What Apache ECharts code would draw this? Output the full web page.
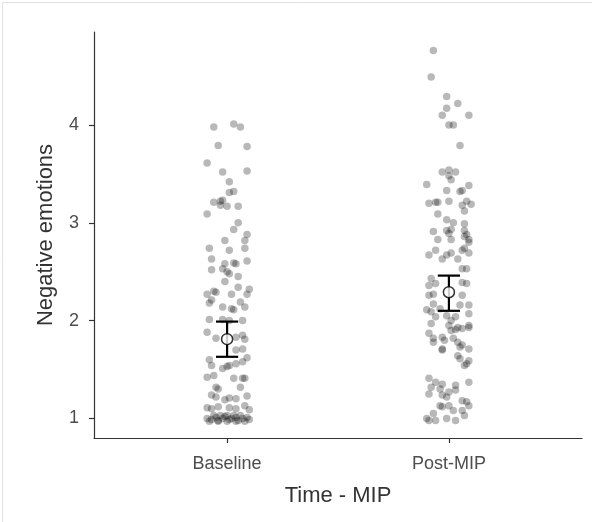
<!DOCTYPE html>
<html>
<head>
<meta charset="utf-8">
<script src="https://cdn.jsdelivr.net/npm/echarts@6/dist/echarts.min.js"></script>
<style>
html,body{margin:0;padding:0;background:#fff;}
#chart{width:592px;height:522px;}
</style>
</head>
<body>
<div id="chart"></div>
<script>
// ---- data ----
const categories = ['Baseline', 'Post-MIP'];
const yTicks = [1, 2, 3, 4];
// [x (category position + jitter), value]
const baselinePoints = [
  [0.94,3.98],[1.03,4.01],[1.06,3.98],[0.96,3.79],[1.09,3.78],[0.91,3.61],[0.98,3.52],[1.09,3.53],
  [1.01,3.42],[1.01,3.31],[1.03,3.32],[0.94,3.21],[0.97,3.22],[0.98,3.23],[0.97,3.18],[1.00,3.17],
  [1.05,3.17],[0.91,3.09],[1.05,3.00],[1.03,2.93],[1.09,2.88],[1.08,2.82],[0.99,2.82],[1.08,2.74],
  [0.92,2.74],[1.01,2.72],[0.93,2.63],[0.99,2.58],[1.03,2.59],[1.04,2.58],[1.09,2.61],[0.93,2.52],
  [0.98,2.53],[1.00,2.50],[1.01,2.48],[1.05,2.45],[0.99,2.40],[1.05,2.34],[1.10,2.32],[0.91,2.27],
  [0.94,2.30],[0.95,2.29],[1.02,2.27],[1.09,2.27],[0.93,2.21],[0.92,2.18],[1.06,2.19],[0.98,2.14],
  [1.02,2.12],[1.03,2.11],[1.08,2.14],[0.92,2.01],[0.98,2.01],[1.01,2.00],[1.07,2.00],[0.91,1.88],
  [0.95,1.82],[1.04,1.83],[1.07,1.85],[1.08,1.81],[1.04,1.70],[1.07,1.71],[0.92,1.60],[0.93,1.54],
  [0.98,1.51],[1.00,1.53],[1.01,1.54],[1.04,1.56],[1.07,1.58],[1.09,1.62],[0.91,1.42],[0.94,1.44],
  [1.03,1.41],[1.07,1.41],[1.08,1.41],[0.95,1.32],[0.96,1.30],[1.06,1.32],[0.93,1.24],[0.95,1.22],
  [0.99,1.19],[1.01,1.21],[1.04,1.20],[1.09,1.23],[0.91,1.11],[0.93,1.10],[0.96,1.12],[1.01,1.11],
  [1.04,1.10],[1.08,1.13],[1.10,1.09],
  [0.91,1.00],[0.93,0.99],[0.95,1.01],[0.96,0.98],[0.98,1.00],[0.99,1.02],[1.01,0.99],[1.02,1.00],
  [1.04,1.01],[1.05,0.98],[1.07,1.00],[1.09,1.01],[1.10,0.99],
  [0.94,1.03],[0.97,1.03],[1.00,1.03],[1.03,1.03],[1.06,1.03],
  [0.92,0.97],[0.96,0.97],[1.00,0.97],[1.04,0.97],[1.08,0.97]
];
const postPoints = [
  [1.93,4.76],[1.92,4.49],[1.99,4.29],[2.04,4.22],[1.99,4.17],[1.97,4.10],[2.09,4.10],[2.00,4.00],
  [2.02,4.00],[2.05,3.79],[1.97,3.52],[2.00,3.54],[2.03,3.52],[2.00,3.48],[2.01,3.44],[1.90,3.39],
  [2.09,3.38],[1.99,3.33],[2.05,3.32],[2.06,3.33],[1.91,3.20],[1.94,3.21],[1.95,3.21],[2.00,3.22],
  [2.08,3.22],[2.06,3.18],[2.10,3.19],[2.07,3.12],[1.95,3.09],[1.99,3.03],[2.02,3.00],[2.07,2.99],
  [1.93,2.91],[1.99,2.92],[2.01,2.93],[2.00,2.89],[2.07,2.92],[2.08,2.88],[1.95,2.83],[2.01,2.83],
  [2.09,2.83],[2.07,2.86],[2.09,2.80],[1.91,2.67],[1.94,2.72],[1.97,2.63],[1.99,2.67],[2.01,2.69],
  [2.04,2.63],[2.06,2.72],[2.07,2.74],[2.09,2.69],[2.06,2.53],[2.08,2.53],[1.92,2.43],[1.94,2.38],
  [1.91,2.36],[2.06,2.39],[2.08,2.38],[1.91,2.26],[1.93,2.27],[2.06,2.26],[1.93,2.17],[2.05,2.16],
  [2.09,2.16],[1.90,2.11],[1.92,2.09],[1.96,2.12],[1.94,2.04],[1.99,2.05],[2.01,2.00],[2.03,2.04],
  [2.09,2.07],[1.92,1.97],[2.00,1.95],[2.04,1.93],[2.09,1.95],[1.91,1.87],[1.93,1.82],[1.97,1.83],
  [2.01,1.90],[2.03,1.91],[2.06,1.92],[2.09,1.93],[1.93,1.78],[1.98,1.80],[2.02,1.82],[2.04,1.78],
  [2.05,1.73],[2.06,1.75],[2.09,1.71],[1.97,1.71],[1.97,1.70],[2.04,1.64],[2.05,1.61],[2.09,1.59],
  [2.08,1.56],[2.07,1.54],[1.91,1.41],[1.94,1.37],[1.97,1.35],[1.92,1.32],[1.96,1.30],[2.03,1.34],
  [2.09,1.37],[2.00,1.27],[2.03,1.29],[1.91,1.25],[1.97,1.24],[1.99,1.22],[2.06,1.18],[2.08,1.17],
  [1.96,1.13],[1.97,1.12],[2.00,1.13],[2.02,1.08],[2.06,1.08],[2.09,1.13],[1.93,1.05],[1.90,1.00],
  [1.91,0.98],[1.94,0.98],[1.99,1.00],[2.03,0.98],[2.07,1.03]
];
// [category position, mean, lower CI, upper CI]
const summaryStats = [
  [1, 1.81, 1.63, 1.99],
  [2, 2.29, 2.10, 2.46]
];

// ---- chart ----
const chart = echarts.init(document.getElementById('chart'), null, {renderer: 'canvas'});
const FONT = 'Liberation Sans, Arial, sans-serif';
const CAP = 0.05;

chart.setOption({
  backgroundColor: '#ffffff',
  animation: false,
  graphic: [{
    type: 'rect', left: 0, top: 0, z: -10,
    shape: {x: 0.5, y: 0.5, width: 591, height: 521},
    style: {fill: 'none', stroke: '#e3e3e3', lineWidth: 1}
  }],
  grid: {left: 94, right: 10, top: 32, bottom: 84},
  xAxis: {
    type: 'value', min: 0.4, max: 2.6,
    name: 'Time - MIP', nameLocation: 'middle', nameGap: 47,
    nameTextStyle: {fontFamily: FONT, fontSize: 22, color: '#333'},
    axisLine: {show: true, onZero: false, lineStyle: {color: '#333', width: 1.2}},
    axisTick: {show: true, length: 5, customValues: [1, 2], lineStyle: {color: '#333', width: 1.2}},
    axisLabel: {
      customValues: [1, 2], margin: 17,
      fontFamily: FONT, fontSize: 18, color: '#4d4d4d',
      formatter: v => categories[Math.round(v) - 1] || ''
    },
    splitLine: {show: false}
  },
  yAxis: {
    type: 'value', min: 0.8, max: 4.95,
    name: 'Negative emotions', nameLocation: 'middle', nameGap: 37, nameRotate: 90,
    nameTextStyle: {fontFamily: FONT, fontSize: 22, color: '#333'},
    axisLine: {show: true, onZero: false, lineStyle: {color: '#333', width: 1.2}},
    axisTick: {show: true, length: 5, customValues: yTicks, lineStyle: {color: '#333', width: 1.2}},
    axisLabel: {customValues: yTicks, margin: 15, fontFamily: FONT, fontSize: 18, color: '#4d4d4d'},
    splitLine: {show: false}
  },
  series: [
    {
      type: 'scatter', data: baselinePoints, symbolSize: 7.5,
      itemStyle: {color: 'rgba(0,0,0,0.35)'}, silent: true
    },
    {
      type: 'scatter', data: postPoints, symbolSize: 7.5,
      itemStyle: {color: 'rgba(0,0,0,0.35)'}, silent: true
    },
    {
      type: 'custom', data: summaryStats, z: 5,
      renderItem: function (params, api) {
        const x = api.value(0), lo = api.value(2), hi = api.value(3);
        const pLo = api.coord([x, lo]), pHi = api.coord([x, hi]);
        const l1 = api.coord([x - CAP, lo]), r1 = api.coord([x + CAP, lo]);
        const l2 = api.coord([x - CAP, hi]), r2 = api.coord([x + CAP, hi]);
        const st = {stroke: '#000', lineWidth: 2.2};
        return {
          type: 'group',
          children: [
            {type: 'line', shape: {x1: pLo[0], y1: pLo[1], x2: pHi[0], y2: pHi[1]}, style: st},
            {type: 'line', shape: {x1: l1[0], y1: l1[1], x2: r1[0], y2: r1[1]}, style: st},
            {type: 'line', shape: {x1: l2[0], y1: l2[1], x2: r2[0], y2: r2[1]}, style: st}
          ]
        };
      },
      encode: {x: 0, y: 1}
    },
    {
      type: 'scatter', z: 6, symbolSize: 11,
      data: summaryStats.map(d => [d[0], d[1]]),
      itemStyle: {color: '#fff', borderColor: '#000', borderWidth: 1.5}
    }
  ]
});
</script>
</body>
</html>
